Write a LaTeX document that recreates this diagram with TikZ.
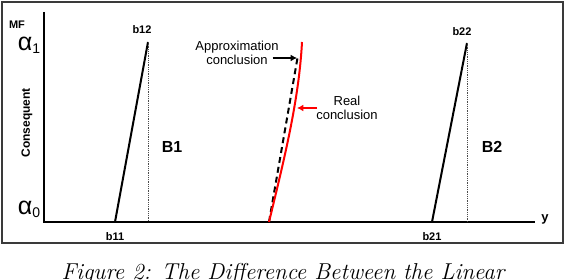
\documentclass[tikz,border=0pt]{standalone}
\usepackage{fontspec}
\setsansfont{Liberation Sans}
\usetikzlibrary{arrows.meta}
\definecolor{frameGray}{HTML}{3A3A3A}
\definecolor{realRed}{HTML}{FF0000}

\begin{document}
\begin{tikzpicture}[x=1pt,y=-1pt,
    lbl/.style={font=\sffamily\bfseries\fontsize{11}{12}\selectfont,inner sep=0pt},
    setname/.style={font=\sffamily\bfseries\fontsize{16}{16}\selectfont,inner sep=0pt},
    alphalbl/.style={font=\sffamily\fontsize{25}{25}\selectfont,inner sep=0pt},
    note/.style={font=\sffamily\fontsize{13}{14.5}\selectfont,align=center,inner sep=0pt},
    mfline/.style={line width=2pt},
    guide/.style={densely dotted,line width=0.8pt,black!70},
    pointer/.style={-{Latex[length=2.2mm,width=2.4mm]},line width=1.4pt}]

  \useasboundingbox (0,0) rectangle (566,280);
  \draw[frameGray,line width=1.8pt] (2,2) rectangle (563,243);

  % axes
  \coordinate (ytop) at (44,12);
  \coordinate (o) at (44,222);
  \coordinate (xend) at (535,222);
  \draw[line width=1.6pt] (ytop) -- (o) -- (xend);
  \node[font=\sffamily\bfseries\fontsize{11}{11}\selectfont,inner sep=0pt] (mf) at (17,25) {MF};
  \node[font=\sffamily\bfseries\fontsize{13}{13}\selectfont,inner sep=0pt] (ylbl) at (545,219) {y};
  \node[font=\sffamily\bfseries\fontsize{12}{12}\selectfont,rotate=90,inner sep=0pt] (cons) at (27,123) {Consequent};
  \node[alphalbl] (a1) at (29,45) {α\raisebox{-3pt}{\fontsize{14}{14}\selectfont 1}};
  \node[alphalbl] (a0) at (29,209) {α\raisebox{-3pt}{\fontsize{14}{14}\selectfont 0}};

  % B1
  \coordinate (b11) at (115,222);
  \coordinate (b12) at (148,42);
  \draw[mfline] (b11) -- (b12);
  \draw[guide] (b12) -- (b12 |- o);
  \node[lbl] (b11lbl) at (115,237) {b11};
  \node[lbl] (b12lbl) at (142,30) {b12};
  \node[setname] (B1) at (172,147) {B1};

  % B2
  \coordinate (b21) at (432,222);
  \coordinate (b22) at (467,43);
  \draw[mfline] (b21) -- (b22);
  \draw[guide] (b22) -- (b22 |- o);
  \node[lbl] (b21lbl) at (432,237) {b21};
  \node[lbl] (b22lbl) at (462,32) {b22};
  \node[setname] (B2) at (492,147) {B2};

  % conclusions
  \coordinate (c0) at (269,222);
  \coordinate (capx) at (298,55);
  \coordinate (creal) at (302,42);
  \draw[line width=2pt,dash pattern=on 6pt off 4pt] (c0) -- (capx);
  \draw[realRed,line width=2pt] (c0) .. controls (284,160) and (299,100) .. (creal);
  \node[note] (approx) at (237,53) {Approximation\\conclusion};
  \coordinate (apxtip) at (297,58);
  \draw[pointer] ([xshift=-6pt]approx.east |- apxtip) -- (apxtip);
  \node[note] (real) at (347,108) {Real\\conclusion};
  \coordinate (realtip) at (297,108);
  \draw[pointer,realRed] ([xshift=1pt]real.west) -- (realtip);

  % caption
  \node[font=\itshape\fontsize{23}{23}\selectfont,anchor=base,inner sep=0pt] (cap) at (283,280)
    {Figure 2: The Difference Between the Linear};
\end{tikzpicture}
\end{document}
